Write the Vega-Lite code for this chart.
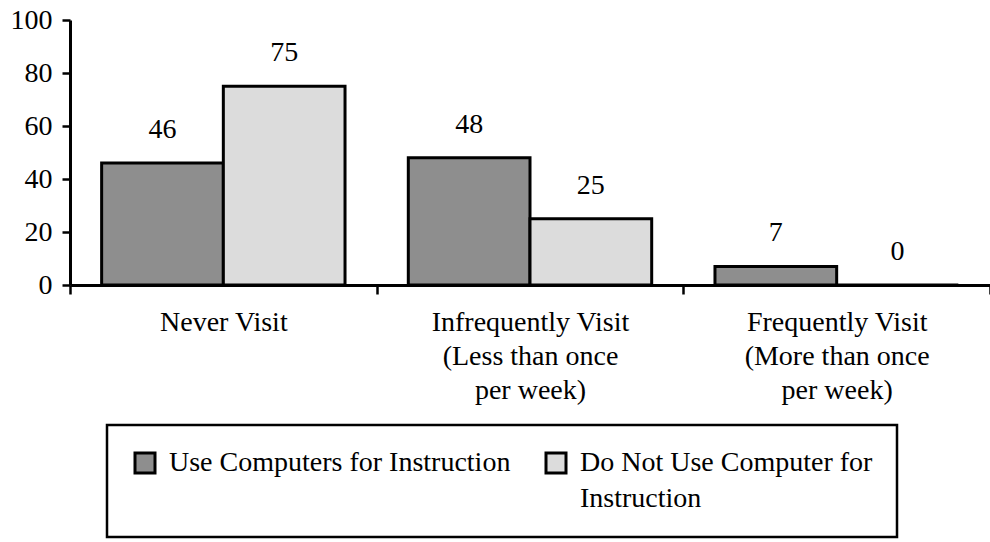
{
  "$schema": "https://vega.github.io/schema/vega-lite/v6.json",
  "width": 920,
  "height": 265,
  "autosize": {"type": "none"},
  "padding": {"left": 70, "top": 20, "right": 0, "bottom": 257},
  "background": "white",
  "config": {"view": {"stroke": null}, "font": "Liberation Serif"},
  "data": {
    "values": [
      {"visit": "Never Visit", "group": "Use Computers for Instruction", "pct": 46},
      {"visit": "Never Visit", "group": "Do Not Use Computer for Instruction", "pct": 75},
      {"visit": "Infrequently Visit|(Less than once|per week)", "group": "Use Computers for Instruction", "pct": 48},
      {"visit": "Infrequently Visit|(Less than once|per week)", "group": "Do Not Use Computer for Instruction", "pct": 25},
      {"visit": "Frequently Visit|(More than once|per week)", "group": "Use Computers for Instruction", "pct": 7},
      {"visit": "Frequently Visit|(More than once|per week)", "group": "Do Not Use Computer for Instruction", "pct": 0}
    ]
  },
  "encoding": {
    "x": {
      "field": "visit",
      "type": "nominal",
      "sort": null,
      "scale": {"paddingInner": 0, "paddingOuter": 0},
      "axis": {
        "title": null,
        "labelAngle": 0,
        "tickBand": "extent",
        "domainColor": "black",
        "domainWidth": 3,
        "tickColor": "black",
        "tickWidth": 2.5,
        "tickSize": 9,
        "labelFont": "Liberation Serif",
        "labelFontSize": 28,
        "labelLineHeight": 34,
        "labelPadding": 14,
        "labelLimit": 0,
        "labelColor": "black",
        "labelExpr": "split(datum.label, '|')"
      }
    },
    "xOffset": {
      "field": "group",
      "sort": ["Use Computers for Instruction", "Do Not Use Computer for Instruction"],
      "scale": {"paddingInner": 0, "paddingOuter": 0.26}
    },
    "y": {
      "field": "pct",
      "type": "quantitative",
      "scale": {"domain": [0, 100], "nice": false},
      "axis": {
        "title": null,
        "values": [0, 20, 40, 60, 80, 100],
        "grid": false,
        "domainColor": "black",
        "domainWidth": 3,
        "tickColor": "black",
        "tickWidth": 2.5,
        "tickSize": 8,
        "labelFont": "Liberation Serif",
        "labelFontSize": 28,
        "labelColor": "black",
        "labelPadding": 10
      }
    }
  },
  "layer": [
    {
      "mark": {"type": "bar", "stroke": "black", "strokeWidth": 3},
      "encoding": {
        "color": {
          "field": "group",
          "type": "nominal",
          "sort": ["Use Computers for Instruction", "Do Not Use Computer for Instruction"],
          "scale": {
            "domain": ["Use Computers for Instruction", "Do Not Use Computer for Instruction"],
            "range": ["#8e8e8e", "#dcdcdc"]
          },
          "legend": {
            "orient": "none",
            "legendX": 37,
            "legendY": 405,
            "direction": "horizontal",
            "columns": 2,
            "title": null,
            "strokeColor": "black",
            "padding": 24,
            "columnPadding": 29,
            "symbolType": "square",
            "symbolSize": 400,
            "symbolStrokeColor": "black",
            "symbolStrokeWidth": 3,
            "labelFont": "Liberation Serif",
            "labelFontSize": 28,
            "labelColor": "black",
            "labelLimit": 0,
            "labelOffset": 10,
            "labelBaseline": "middle",
            "labelExpr": "datum.label == 'Do Not Use Computer for Instruction' ? ['Do Not Use Computer for', 'Instruction'] : [datum.label, '']",
            "encode": {
              "legend": {"update": {"strokeWidth": {"value": 2.5}, "width": {"value": 846}}},
              "labels": {"update": {"lineHeight": {"value": 36}}}
            }
          }
        }
      }
    },
    {
      "mark": {"type": "text", "baseline": "middle", "dy": -33, "fontSize": 28, "font": "Liberation Serif", "color": "black"},
      "encoding": {"text": {"field": "pct", "type": "quantitative"}}
    }
  ]
}
